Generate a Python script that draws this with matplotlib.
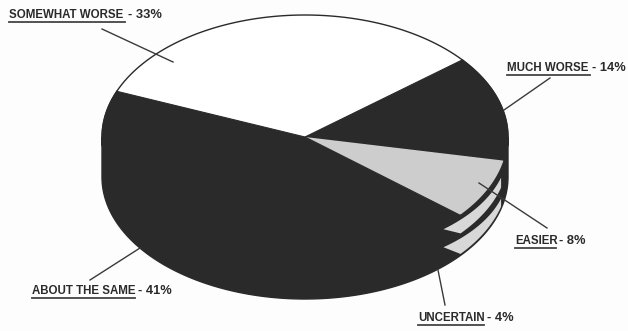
"""
Scanned survey pie chart, tilted with a thick side wall.
Slices are computed from the percentages; the pie is squashed into an ellipse.
"""

import numpy as np
import matplotlib
matplotlib.use("Agg")
import matplotlib.pyplot as plt
from matplotlib.patches import Polygon

categories = ["SOMEWHAT WORSE", "MUCH WORSE", "EASIER", "UNCERTAIN", "ABOUT THE SAME"]
percents = [33, 14, 8, 4, 41]
slice_colors = ["#ffffff", "#2b2a2b", "#cdcdcd", "#2b2a2b", "#2b2a2b"]

INK = "#2b2a2b"
CX, CY, RX, RY = 305, 137, 203, 122
DEPTH = 40
START_ANGLE = 158

# label x, centre y, underline width, suffix x
label_pos = {
    "SOMEWHAT WORSE": (9, 15, 116, 128),
    "MUCH WORSE": (507, 68, 83, 592),
    "EASIER": (515, 241, 41, 559),
    "UNCERTAIN": (418, 318, 66, 487),
    "ABOUT THE SAME": (32, 291, 103, 138),
}
leaders = {
    "SOMEWHAT WORSE": ((102, 29), (173, 62)),
    "MUCH WORSE": ((550, 78), (504, 110)),
    "EASIER": ((479, 183), (547, 228)),
    "UNCERTAIN": ((445, 305), (438, 270)),
    "ABOUT THE SAME": ((90, 280), (140, 248)),
}


def rim(t_deg, dy=0.0):
    t = np.radians(t_deg)
    return np.column_stack([CX + RX * np.cos(t), CY - RY * np.sin(t) + dy])


def main():
    plt.rcParams["font.family"] = ["Liberation Sans", "DejaVu Sans"]
    fig = plt.figure(figsize=(6.28, 3.31), dpi=100, facecolor="#fdfdfd")
    ax = fig.add_axes([0, 0, 1, 1])
    ax.set_xlim(0, 628)
    ax.set_ylim(331, 0)
    ax.axis("off")

    # side wall
    t = np.linspace(180, 360, 200)
    wall = np.vstack([rim(t), rim(t[::-1], DEPTH)])
    ax.add_patch(Polygon(wall, closed=True, fc=INK, ec=INK, lw=1))

    # top face, clockwise from the upper left
    edges = START_ANGLE - np.cumsum([0] + percents) * 3.6
    for i, name in enumerate(categories):
        arc = rim(np.linspace(edges[i], edges[i + 1], 80))
        pts = np.vstack([[[CX, CY]], arc])
        ec = INK if slice_colors[i] == INK else "none"
        ax.add_patch(Polygon(pts, closed=True, fc=slice_colors[i], ec=ec, lw=0.8, zorder=2))
        ax.plot(arc[:, 0], arc[:, 1], color=INK, lw=1, zorder=3)

    # two light stripes on the wall below the EASIER slice, tapering toward the left
    stripes = [(9, 3, 19, 18), (30, 21, 38, 38.5)]
    for top_r, top_l, bot_r, bot_l in stripes:
        t_up = np.linspace(-15, -47, 60)
        t_lo = np.linspace(-40, -15, 60)
        upper = rim(t_up, np.linspace(top_r, top_l, 60))
        lower = rim(t_lo, np.linspace(bot_l, bot_r, 60))
        ax.add_patch(Polygon(np.vstack([upper, lower]), closed=True,
                             fc="#d8d8d8", ec="none", zorder=3))

    for name, pct in zip(categories, percents):
        x, y, w, sx = label_pos[name]
        ax.text(x, y, name, fontsize=8.3, fontweight="bold", color=INK,
                va="center", ha="left", zorder=5)
        ax.plot([x, x + w], [y + 6.5, y + 6.5], color="#444444", lw=1.3, zorder=5)
        ax.text(sx, y, f"- {pct}%", fontsize=9.3, fontweight="bold", color=INK,
                va="center", ha="left", zorder=5)
        (x0, y0), (x1, y1) = leaders[name]
        ax.plot([x0, x1], [y0, y1], color="#3a3a3a", lw=1, zorder=4)

    fig.savefig("out.png", dpi=100, facecolor=fig.get_facecolor())


if __name__ == "__main__":
    main()
